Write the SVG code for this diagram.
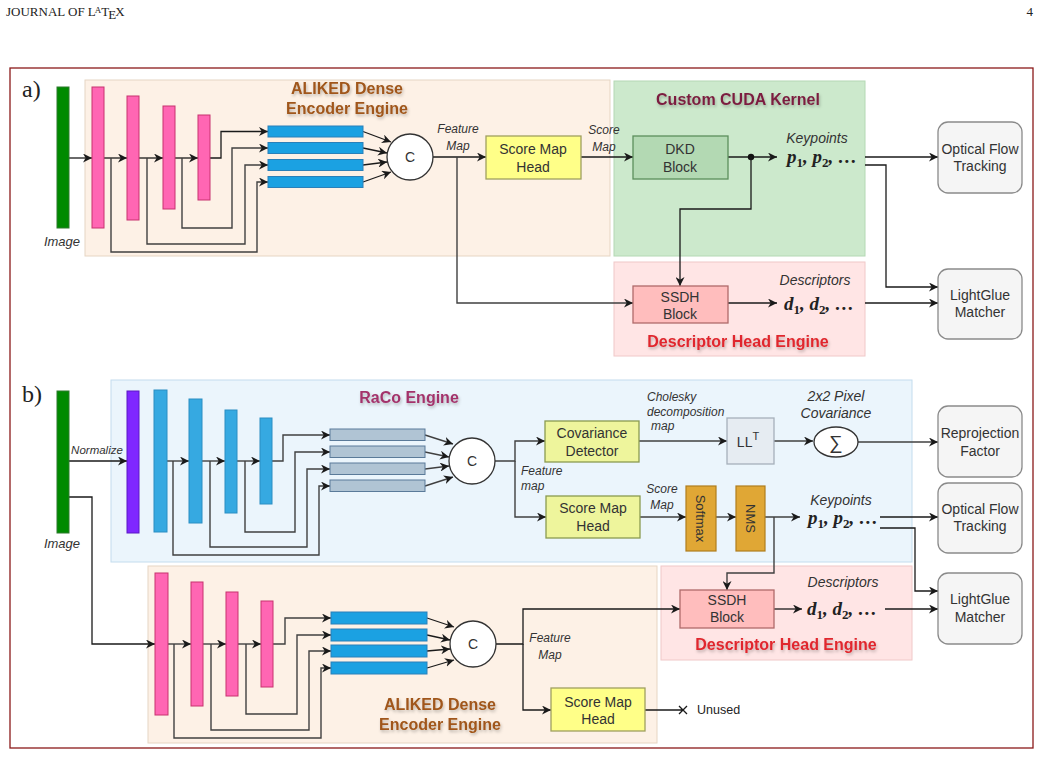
<svg xmlns="http://www.w3.org/2000/svg" width="1042" height="758" viewBox="0 0 1042 758">
<defs>
<marker id="ah" viewBox="0 0 10 10" refX="10" refY="5" markerWidth="9" markerHeight="9" markerUnits="userSpaceOnUse" orient="auto"><path d="M0,0 L10,5 L0,10 L3,5 z" fill="#1a1a1a"/></marker>
<filter id="sh" x="-10%" y="-30%" width="120%" height="170%"><feDropShadow dx="1" dy="2" stdDeviation="1.5" flood-color="#000" flood-opacity="0.25"/></filter>
<style>
.ln{fill:none;stroke:#1a1a1a;stroke-width:1.3}
.sk{fill:none;stroke:#404040;stroke-width:1.4}
.ar{marker-end:url(#ah)}
.t{font-family:"Liberation Sans",Arial,sans-serif;font-size:14px;fill:#333;text-anchor:middle}
.it{font-family:"Liberation Sans",Arial,sans-serif;font-size:12px;font-style:italic;fill:#333}
.itc{text-anchor:middle}
.ttl{font-family:"Liberation Sans",Arial,sans-serif;font-size:16px;font-weight:bold;text-anchor:middle;filter:url(#sh)}
.math{font-family:"Liberation Serif","Times New Roman",serif;font-size:19px;font-weight:bold;font-style:italic;fill:#222}
.sub{font-size:13px;font-style:normal}
.lab{font-family:"Liberation Serif","Times New Roman",serif;font-size:24px;fill:#222}
.pink{fill:#ff66b3;stroke:#c8336e;stroke-width:1}
.blu{fill:#1ba1e2;stroke:#2a80b9;stroke-width:1}
.vb{fill:#36a9e1;stroke:#2b8ec2;stroke-width:1}
.gb{fill:#b0c4d4;stroke:#5a7a99;stroke-width:1}
.grn{fill:#008a00;stroke:#2d7a2d;stroke-width:1}
.out{fill:#f5f5f5;stroke:#8a8a8a;stroke-width:1.3}
.circ{fill:#fff;stroke:#333;stroke-width:1.3}
</style>
</defs>
<rect width="1042" height="758" fill="#fff"/>
<text x="6" y="16" style="font-family:'Liberation Serif',serif;font-size:13px;fill:#222">JOURNAL OF L<tspan font-size="9" dx="-1" dy="-3">A</tspan><tspan dx="0" dy="3">T</tspan><tspan dx="-1" dy="3">E</tspan><tspan dx="-1" dy="-3">X</tspan></text>
<text x="1033" y="16" style="font-family:'Liberation Serif',serif;font-size:13px;fill:#222;text-anchor:end">4</text>
<rect x="10" y="68" width="1023" height="680" fill="none" stroke="#8b1a1a" stroke-width="1.3"/>

<!-- containers -->
<g id="aliked-a"><rect x="85" y="80" width="525" height="176" fill="#fdf1e6" stroke="#e6d5c3"/>
<text class="ttl" x="347" y="94" fill="#a0561a">ALIKED Dense</text><text class="ttl" x="347" y="114" fill="#a0561a">Encoder Engine</text></g>
<g id="cuda-a"><rect x="614" y="81" width="251" height="175" fill="#cce9cc" stroke="#b4d8b4"/>
<text class="ttl" x="738" y="105" fill="#7b1f3f">Custom CUDA Kernel</text></g>
<g id="desc-a"><rect x="614" y="262" width="251" height="94" fill="#ffe5e5" stroke="#f0c8c8"/>
<text class="ttl" x="738" y="347" fill="#e0282e">Descriptor Head Engine</text></g>
<g id="raco-b"><rect x="111" y="380" width="801" height="182" fill="#ebf5fc" stroke="#c3dcee"/>
<text class="ttl" x="409" y="403" fill="#a3336b">RaCo Engine</text></g>
<g id="aliked-b"><rect x="148" y="566" width="509" height="177" fill="#fdf1e6" stroke="#e6d5c3"/>
<text class="ttl" x="440" y="710" fill="#a0561a">ALIKED Dense</text><text class="ttl" x="440" y="730" fill="#a0561a">Encoder Engine</text></g>
<g id="desc-b"><rect x="661" y="566" width="251" height="94" fill="#ffe5e5" stroke="#f0c8c8"/>
<text class="ttl" x="786" y="650" fill="#e0282e">Descriptor Head Engine</text></g>

<text class="lab" x="22" y="97">a)</text>
<text class="lab" x="22" y="402">b)</text>

<!-- connectors -->
<g id="connectors">
<path class="ln ar" d="M69,158 H92"/>
<path class="ln ar" d="M104,158 H127"/>
<path class="ln ar" d="M139,158 H163"/>
<path class="ln ar" d="M175,158 H198"/>
<path class="ln ar" d="M210,158 H221 V131.5 H268"/>
<path class="sk ar" d="M182,158 V228 H232 V148 H268"/>
<path class="sk ar" d="M147,158 V244 H245 V165 H268"/>
<path class="sk ar" d="M111,158 V252 H257 V182 H268"/>
<path class="ln ar" d="M363,131.5 L391,142"/>
<path class="ln ar" d="M363,148 L387,153"/>
<path class="ln ar" d="M363,165 L387,162"/>
<path class="ln ar" d="M363,182 L391,172"/>
<path class="ln ar" d="M433,157 H486"/>
<path class="sk ar" d="M457,157 V303 H633"/>
<path class="ln ar" d="M581,157 H633"/>
<path class="ln ar" d="M728,157 H777"/>
<circle cx="751" cy="157" r="3.2" fill="#111"/>
<path class="ln ar" d="M751,157 V209 H680 V286"/>
<path class="ln ar" d="M865,157 H938"/>
<path class="ln ar" d="M865,165 H886 V287 H938"/>
<path class="ln ar" d="M728,303 H777"/>
<path class="ln ar" d="M865,303 H938"/>

<path class="ln ar" d="M69,461 H127"/>
<path class="ln ar" d="M69,497 H92 V644 H155"/>
<path class="sk ar" d="M167,461 H189"/>
<path class="sk ar" d="M202,461 H225"/>
<path class="sk ar" d="M237,461 H260"/>
<path class="sk ar" d="M272,461 H283 V435 H330"/>
<path class="sk ar" d="M245,461 V532 H295 V452 H330"/>
<path class="sk ar" d="M210,461 V547 H307 V469 H330"/>
<path class="sk ar" d="M173,461 V555 H319 V486 H330"/>
<path class="sk ar" d="M425,435 L453,444"/>
<path class="sk ar" d="M425,452 L449,457"/>
<path class="sk ar" d="M425,469 L449,466"/>
<path class="sk ar" d="M425,486 L453,477"/>
<path class="sk ar" d="M495,461 H515 V441 H545"/>
<path class="sk ar" d="M515,461 V517 H546"/>
<path class="sk ar" d="M639,441 H727"/>
<path class="sk ar" d="M774,441 H813"/>
<path class="sk ar" d="M858,442 H938"/>
<path class="sk ar" d="M640,517 H686"/>
<path class="sk ar" d="M716,517 H736"/>
<path class="sk ar" d="M765,517 H800"/>
<path class="sk ar" d="M774,517 V573 H727 V590"/>
<path class="ln ar" d="M880,517 H938"/>
<path class="ln ar" d="M880,528 H915 V591 H938"/>
<path class="ln ar" d="M774,609 H802"/>
<path class="ln ar" d="M885,609 H938"/>

<path class="sk ar" d="M168,644 H191"/>
<path class="sk ar" d="M203,644 H226"/>
<path class="sk ar" d="M238,644 H261"/>
<path class="sk ar" d="M273,644 H285 V618 H331"/>
<path class="sk ar" d="M246,644 V714 H297 V635 H331"/>
<path class="sk ar" d="M211,644 V730 H309 V651 H331"/>
<path class="sk ar" d="M174,644 V738 H321 V668 H331"/>
<path class="ln ar" d="M427,618 L454,627"/>
<path class="ln ar" d="M427,635 L450,640"/>
<path class="ln ar" d="M427,651 L450,649"/>
<path class="ln ar" d="M427,668 L454,660"/>
<path class="ln ar" d="M496,644 H523 V609 H680"/>
<path class="ln ar" d="M523,644 V710 H551"/>
<path class="ln" d="M645,710 H683 M679,706 L687,714 M679,714 L687,706"/>
</g>

<!-- part a nodes -->
<g id="image-a"><rect class="grn" x="57" y="87" width="12" height="141"/><text class="it itc" x="62" y="246" style="font-size:13px">Image</text></g>
<g id="enc-a"><rect class="pink" x="92" y="87" width="12" height="141"/><rect class="pink" x="127" y="96" width="12" height="124"/><rect class="pink" x="163" y="106" width="12" height="103"/><rect class="pink" x="198" y="115" width="12" height="85"/></g>
<g id="feat-a"><rect class="blu" x="268" y="126" width="95" height="11"/><rect class="blu" x="268" y="142.5" width="95" height="11"/><rect class="blu" x="268" y="159.5" width="95" height="11"/><rect class="blu" x="268" y="176.5" width="95" height="11"/></g>
<g id="concat-a"><circle class="circ" cx="410" cy="157" r="23"/><text class="t" x="410" y="162">C</text></g>
<g id="fm-a"><text class="it itc" x="458" y="133">Feature</text><text class="it itc" x="458" y="150">Map</text></g>
<g id="smh-a"><rect x="486" y="136" width="95" height="43" fill="#ffff88" stroke="#a0a060" stroke-width="1.3"/><text class="t" x="533" y="154">Score Map</text><text class="t" x="533" y="172">Head</text></g>
<g id="sm-a"><text class="it itc" x="604" y="134">Score</text><text class="it itc" x="604" y="151">Map</text></g>
<g id="dkd-a"><rect x="633" y="136" width="95" height="43" fill="#b3d9b3" stroke="#5d8f5d" stroke-width="1.3"/><text class="t" x="680" y="154">DKD</text><text class="t" x="680" y="172">Block</text></g>
<g id="kp-a"><text class="it itc" x="817" y="143" style="font-size:14px">Keypoints</text>
<text class="math" x="787" y="163">p<tspan class="sub" dy="4">1</tspan><tspan dy="-4">, p</tspan><tspan class="sub" dy="4">2</tspan><tspan dy="-4">, …</tspan></text></g>
<g id="ssdh-a"><rect x="633" y="286" width="95" height="37" fill="#ffbdbd" stroke="#b06a6a" stroke-width="1.3"/><text class="t" x="680" y="302">SSDH</text><text class="t" x="680" y="319">Block</text></g>
<g id="dsc-a"><text class="it itc" x="815" y="285" style="font-size:14px">Descriptors</text>
<text class="math" x="784" y="310">d<tspan class="sub" dy="4">1</tspan><tspan dy="-4">, d</tspan><tspan class="sub" dy="4">2</tspan><tspan dy="-4">, …</tspan></text></g>
<g id="oft-a"><rect class="out" x="938" y="122" width="84" height="71" rx="10"/><text class="t" x="980" y="154">Optical Flow</text><text class="t" x="980" y="171">Tracking</text></g>
<g id="lg-a"><rect class="out" x="938" y="269" width="84" height="70" rx="10"/><text class="t" x="980" y="300">LightGlue</text><text class="t" x="980" y="317">Matcher</text></g>

<!-- part b nodes -->
<g id="image-b"><rect class="grn" x="57" y="391" width="12" height="142"/><text class="it itc" x="62" y="548" style="font-size:13px">Image</text></g>
<text class="it itc" x="97" y="454" style="font-size:11.5px">Normalize</text>
<g id="norm-b"><rect x="127" y="391" width="12" height="142" fill="#7f27ff" stroke="#5c19c4"/></g>
<g id="enc-raco"><rect class="vb" x="154" y="390" width="13" height="142"/><rect class="vb" x="189" y="399" width="13" height="124"/><rect class="vb" x="225" y="410" width="12" height="103"/><rect class="vb" x="260" y="418" width="12" height="86"/></g>
<g id="feat-raco"><rect class="gb" x="330" y="429" width="95" height="11.5"/><rect class="gb" x="330" y="446" width="95" height="11.5"/><rect class="gb" x="330" y="463" width="95" height="11.5"/><rect class="gb" x="330" y="480" width="95" height="11.5"/></g>
<g id="concat-raco"><circle class="circ" cx="472" cy="461" r="23"/><text class="t" x="472" y="466">C</text></g>
<g id="fm-raco"><text class="it" x="521" y="475">Feature</text><text class="it" x="521" y="490">map</text></g>
<g id="cov-b"><rect x="545" y="421" width="94" height="41" fill="#eef59c" stroke="#8a9a50" stroke-width="1.3"/><text class="t" x="592" y="438">Covariance</text><text class="t" x="592" y="456">Detector</text></g>
<g id="smh-b"><rect x="546" y="496" width="94" height="42" fill="#eef59c" stroke="#8a9a50" stroke-width="1.3"/><text class="t" x="593" y="513">Score Map</text><text class="t" x="593" y="531">Head</text></g>
<g id="chol-b"><text class="it" x="647" y="401">Cholesky</text><text class="it" x="647" y="416">decomposition</text><text class="it" x="651" y="430">map</text></g>
<g id="llt-b"><rect x="727" y="418" width="47" height="46" fill="#e6ecf2" stroke="#a7b0ba" stroke-width="1.3"/><text class="t" x="748" y="447">LL<tspan font-size="11" dy="-7">T</tspan></text></g>
<g id="cov2-b"><text class="it itc" x="836" y="401" style="font-size:14px">2x2 Pixel</text><text class="it itc" x="836" y="418" style="font-size:14px">Covariance</text></g>
<g id="sigma-b"><ellipse cx="836" cy="442" rx="22" ry="15" fill="#fff" stroke="#333" stroke-width="1.3"/><text class="t" x="836" y="449" style="font-size:19px">∑</text></g>
<g id="rep-b"><rect class="out" x="938" y="406" width="84" height="71" rx="10"/><text class="t" x="980" y="438">Reprojection</text><text class="t" x="980" y="456">Factor</text></g>
<g id="sm-b"><text class="it itc" x="662" y="493">Score</text><text class="it itc" x="662" y="509">Map</text></g>
<g id="softmax-b"><rect x="686" y="486" width="30" height="65" fill="#e0a735" stroke="#b07d1d" stroke-width="1.2"/><text class="t" transform="translate(701,518.5) rotate(90)" x="0" y="5" style="font-size:13px">Softmax</text></g>
<g id="nms-b"><rect x="736" y="486" width="29" height="65" fill="#e0a735" stroke="#b07d1d" stroke-width="1.2"/><text class="t" transform="translate(750.5,518.5) rotate(90)" x="0" y="5" style="font-size:13px">NMS</text></g>
<g id="kp-b"><text class="it itc" x="841" y="505" style="font-size:14px">Keypoints</text>
<text class="math" x="808" y="524">p<tspan class="sub" dy="4">1</tspan><tspan dy="-4">, p</tspan><tspan class="sub" dy="4">2</tspan><tspan dy="-4">, …</tspan></text></g>
<g id="oft-b"><rect class="out" x="938" y="483" width="84" height="70" rx="10"/><text class="t" x="980" y="514">Optical Flow</text><text class="t" x="980" y="531">Tracking</text></g>
<g id="enc-b"><rect class="pink" x="155" y="573" width="13" height="142"/><rect class="pink" x="191" y="582" width="12" height="124"/><rect class="pink" x="226" y="592" width="12" height="104"/><rect class="pink" x="261" y="601" width="12" height="86"/></g>
<g id="feat-b"><rect class="blu" x="331" y="612" width="96" height="12"/><rect class="blu" x="331" y="629" width="96" height="12"/><rect class="blu" x="331" y="645" width="96" height="12"/><rect class="blu" x="331" y="662" width="96" height="12"/></g>
<g id="concat-b"><circle class="circ" cx="473" cy="644" r="23"/><text class="t" x="473" y="649">C</text></g>
<g id="fm-b"><text class="it itc" x="550" y="642">Feature</text><text class="it itc" x="550" y="659">Map</text></g>
<g id="smh-b2"><rect x="551" y="688" width="94" height="43" fill="#ffff88" stroke="#a0a060" stroke-width="1.3"/><text class="t" x="598" y="707">Score Map</text><text class="t" x="598" y="724">Head</text></g>
<text x="697" y="714" style="font-family:'Liberation Sans',Arial,sans-serif;font-size:12.5px;fill:#222">Unused</text>
<g id="ssdh-b"><rect x="680" y="590" width="94" height="38" fill="#ffbdbd" stroke="#b06a6a" stroke-width="1.3"/><text class="t" x="727" y="605">SSDH</text><text class="t" x="727" y="622">Block</text></g>
<g id="dsc-b"><text class="it itc" x="843" y="587" style="font-size:14px">Descriptors</text>
<text class="math" x="807" y="615">d<tspan class="sub" dy="4">1</tspan><tspan dy="-4">, d</tspan><tspan class="sub" dy="4">2</tspan><tspan dy="-4">, …</tspan></text></g>
<g id="lg-b"><rect class="out" x="938" y="573" width="84" height="71" rx="10"/><text class="t" x="980" y="604">LightGlue</text><text class="t" x="980" y="622">Matcher</text></g>
</svg>
